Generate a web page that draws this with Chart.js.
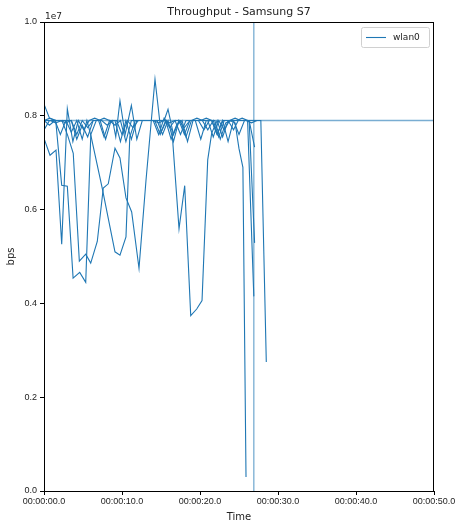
<!DOCTYPE html>
<html><head><meta charset="utf-8">
<script src="https://cdn.jsdelivr.net/npm/chart.js@4"></script>
<style>html,body{margin:0;padding:0;background:#fff}</style>
</head><body>
<canvas id="c" width="458" height="524" style="display:block;width:458px;height:524px"></canvas>
<script>
// ---- data (time in seconds, throughput in bps) ----
const TITLE = 'Throughput - Samsung S7';
const SERIES_LABEL = 'wlan0';
const X_TITLE = 'Time';
const Y_TITLE = 'bps';
const Y_OFFSET_LABEL = '1e7';
const X_TICKS = [0, 10, 20, 30, 40, 50];
const X_TICK_LABELS = ['00:00:00.0', '00:00:10.0', '00:00:20.0', '00:00:30.0', '00:00:40.0', '00:00:50.0'];
const Y_TICKS = [0, 2e6, 4e6, 6e6, 8e6, 1e7];
const Y_TICK_LABELS = ['0.0', '0.2', '0.4', '0.6', '0.8', '1.0'];

const run1 = [[0,8.25e6],[0.7,7.95e6],[1.4,7.9e6],[2.1,7.9e6],[2.8,7.85e6],[3.5,7.9e6],[4.2,7.6e6],[4.9,7.9e6],[5.6,7.75e6],[6.3,7.9e6],[7.0,7.9e6],[7.7,7.55e6],[8.4,7.9e6],[9.1,7.8e6],[9.8,7.9e6],[10.5,7.45e6],[11.2,7.9e6],[11.9,7.9e6],[12.6,7.9e6],[13.3,7.9e6],[14.0,7.9e6],[14.7,7.9e6],[15.4,7.9e6],[16.1,7.85e6],[16.8,7.9e6],[17.5,7.6e6],[18.2,7.9e6],[18.9,7.9e6],[19.6,7.95e6],[20.3,7.9e6],[21.0,7.7e6],[21.7,7.9e6],[22.4,7.55e6],[23.1,7.9e6],[23.8,7.9e6],[24.5,7.85e6],[25.0,7.3e6],[25.5,6.9e6],[25.9,0.3e6]];
const run2 = [[0,7.52e6],[0.77,7.16e6],[1.54,7.27e6],[2.27,5.26e6],[2.99,8.15e6],[3.7,7.45e6],[4.4,7.9e6],[5.1,7.7e6],[5.8,7.9e6],[6.5,7.95e6],[7.2,7.9e6],[7.9,7.5e6],[8.6,7.9e6],[9.3,7.9e6],[10.0,7.6e6],[10.7,7.9e6],[11.4,7.75e6],[12.1,7.9e6],[12.8,7.9e6],[13.5,7.9e6],[14.2,7.9e6],[14.9,7.6e6],[15.6,7.9e6],[16.3,7.5e6],[17.0,7.8e6],[17.7,7.9e6],[18.4,7.45e6],[19.1,7.9e6],[19.8,7.9e6],[20.5,7.7e6],[21.2,7.9e6],[21.9,7.9e6],[22.6,7.5e6],[23.3,7.85e6],[24.0,7.9e6],[24.7,7.9e6],[25.4,7.95e6],[26.1,7.9e6],[26.9,4.15e6]];
const run3 = [[0,7.9e6],[0.75,7.95e6],[1.5,7.9e6],[2.27,6.52e6],[2.99,6.5e6],[3.73,4.54e6],[4.58,4.66e6],[5.35,4.45e6],[6.0,7.6e6],[6.7,7.9e6],[7.4,7.9e6],[8.1,7.8e6],[8.8,7.9e6],[9.2,7.55e6],[9.74,8.32e6],[10.4,7.6e6],[11.2,8.22e6],[11.9,7.5e6],[12.6,7.9e6],[13.3,7.9e6],[14.0,7.9e6],[14.7,7.85e6],[15.4,7.9e6],[15.9,8.14e6],[16.6,7.6e6],[17.3,7.9e6],[18.0,7.75e6],[18.7,7.9e6],[19.4,7.9e6],[20.1,7.5e6],[20.8,7.9e6],[21.5,7.9e6],[22.2,7.6e6],[22.9,7.9e6],[23.6,7.9e6],[24.3,7.7e6],[24.9,7.9e6],[25.6,7.9e6],[26.3,7.9e6],[27.0,5.29e6]];
const run4 = [[0,7.9e6],[0.8,7.9e6],[1.5,7.85e6],[2.3,7.9e6],[3.0,7.6e6],[3.75,7.2e6],[4.53,4.9e6],[5.35,5.05e6],[5.99,4.86e6],[6.83,5.32e6],[7.6,6.46e6],[8.24,6.55e6],[9.1,7.31e6],[9.74,7.1e6],[10.51,6.25e6],[11.24,5.95e6],[12.18,4.75e6],[13.08,6.63e6],[14.23,8.78e6],[15.0,7.65e6],[15.7,7.9e6],[16.4,7.7e6],[17.31,5.59e6],[18.04,6.51e6],[18.81,3.74e6],[19.58,3.88e6],[20.26,4.06e6],[20.99,7.06e6],[21.5,7.63e6],[22.2,7.9e6],[22.9,7.55e6],[23.6,7.9e6],[24.3,7.9e6],[25.0,7.6e6],[25.7,7.9e6],[26.3,7.9e6],[27.0,7.33e6]];
const run5 = [[0,7.7e6],[0.7,7.9e6],[1.4,7.9e6],[2.1,7.9e6],[2.8,7.9e6],[3.5,7.65e6],[4.2,7.9e6],[4.9,7.5e6],[5.5,7.9e6],[6.0,7.59e6],[7.45,6.47e6],[9.1,5.1e6],[9.74,5.03e6],[10.51,5.42e6],[11.0,7.55e6],[11.7,7.9e6],[12.4,7.9e6],[13.1,7.9e6],[13.8,7.9e6],[14.5,7.9e6],[15.2,7.6e6],[15.9,7.9e6],[16.6,7.45e6],[17.3,7.9e6],[18.0,7.6e6],[18.7,7.9e6],[19.4,7.9e6],[20.1,7.9e6],[20.8,7.95e6],[21.5,7.9e6],[22.2,7.6e6],[22.9,7.9e6],[23.6,7.45e6],[24.3,7.9e6],[25.0,7.9e6],[25.7,7.9e6],[26.4,7.9e6],[27.1,7.9e6],[27.8,7.9e6],[28.5,2.75e6]];
const run6 = [[0,7.9e6],[0.7,7.8e6],[1.4,7.9e6],[2.1,7.6e6],[2.8,7.9e6],[3.5,7.9e6],[4.2,7.5e6],[4.9,7.8e6],[5.6,7.55e6],[6.3,7.9e6],[7.0,7.9e6],[7.7,7.95e6],[8.4,7.9e6],[9.1,7.9e6],[9.8,7.45e6],[10.5,7.9e6],[11.2,7.5e6],[11.9,7.9e6],[12.6,7.9e6],[13.3,7.9e6],[14.0,7.9e6],[14.7,7.6e6],[15.4,7.95e6],[16.1,7.75e6],[16.8,7.9e6],[17.5,7.9e6],[18.2,7.55e6],[18.9,7.9e6],[19.6,7.9e6],[20.3,7.9e6],[21.0,7.9e6],[21.7,7.55e6],[22.4,7.9e6],[23.1,7.7e6],[23.8,7.9e6],[24.5,7.95e6],[25.2,7.9e6],[25.9,7.9e6],[26.6,7.85e6],[27.3,7.9e6]];
const RUNS = [run1, run2, run3, run4, run5, run6];
const MARKER_TIME = 26.9;   // vertical reference line
const MARKER_RATE = 7.9e6;  // horizontal reference line
const X_MIN = 0, X_MAX = 50, Y_MIN = 0, Y_MAX = 1e7;

// ---- styling ----
const BLUE = '#1f77b4';
const BLUE_LIGHT = 'rgba(31,119,180,0.6)';
const TICK_FONT = {family: '"Liberation Sans", Arial, sans-serif', size: 9};

const datasets = RUNS.map((r, i) => ({
  label: i === 0 ? SERIES_LABEL : '',
  data: r.map(p => ({x: p[0], y: p[1]})),
  borderColor: BLUE, borderWidth: 1.1, pointRadius: 0, fill: false, tension: 0
}));
datasets.push({label: '', data: [{x: MARKER_TIME, y: Y_MIN}, {x: MARKER_TIME, y: Y_MAX}],
  borderColor: BLUE_LIGHT, borderWidth: 1.3, pointRadius: 0, fill: false});
datasets.push({label: '', data: [{x: X_MIN, y: MARKER_RATE}, {x: X_MAX, y: MARKER_RATE}],
  borderColor: BLUE_LIGHT, borderWidth: 1.3, pointRadius: 0, fill: false});

const decor = {
  id: 'decor',
  afterDraw(chart) {
    const ctx = chart.ctx, a = chart.chartArea;
    ctx.save();
    ctx.strokeStyle = '#000'; ctx.lineWidth = 1;
    ctx.strokeRect(Math.round(a.left) + 0.5, Math.round(a.top) + 0.5, Math.round(a.right - a.left) - 1, Math.round(a.bottom - a.top));
    const cx = (a.left + a.right) / 2;
    ctx.fillStyle = '#222';
    ctx.textAlign = 'center'; ctx.textBaseline = 'alphabetic';
    ctx.font = '11px "DejaVu Sans", sans-serif';
    ctx.fillText(TITLE, cx, 15);
    ctx.font = '10px "DejaVu Sans", sans-serif';
    ctx.fillText(X_TITLE, cx, 520);
    ctx.save(); ctx.translate(14, (a.top + a.bottom) / 2); ctx.rotate(-Math.PI / 2);
    ctx.fillText(Y_TITLE, 0, 0); ctx.restore();
    ctx.textAlign = 'left';
    ctx.font = '9px "DejaVu Sans", sans-serif';
    ctx.fillText(Y_OFFSET_LABEL, a.left + 1, 19);
    // legend
    const lx = 361, ly = 27, lw = 68, lh = 20;
    ctx.fillStyle = 'rgba(255,255,255,0.8)';
    ctx.strokeStyle = '#d0d0d0'; ctx.lineWidth = 1;
    ctx.beginPath();
    if (ctx.roundRect) ctx.roundRect(lx + 0.5, ly + 0.5, lw, lh, 2); else ctx.rect(lx + 0.5, ly + 0.5, lw, lh);
    ctx.fill(); ctx.stroke();
    ctx.strokeStyle = BLUE; ctx.lineWidth = 1.1;
    ctx.beginPath(); ctx.moveTo(366, 37.5); ctx.lineTo(386, 37.5); ctx.stroke();
    ctx.fillStyle = '#222'; ctx.textBaseline = 'middle';
    ctx.font = '9px "DejaVu Sans", sans-serif';
    ctx.fillText(SERIES_LABEL, 393, 38);
    ctx.restore();
  }
};

new Chart(document.getElementById('c'), {
  type: 'line',
  data: {datasets},
  options: {
    responsive: false, animation: false, devicePixelRatio: 1,
    layout: {padding: {top: 22, right: 24, left: 0, bottom: 0}},
    plugins: {legend: {display: false}, title: {display: false}, tooltip: {enabled: false}},
    scales: {
      x: {
        type: 'linear', min: X_MIN, max: X_MAX,
        afterBuildTicks: s => { s.ticks = X_TICKS.map(v => ({value: v})); },
        afterFit: s => { s.height = 33; },
        grid: {drawOnChartArea: false, drawTicks: true, tickLength: 4, tickColor: '#000'},
        border: {color: '#000', width: 1},
        ticks: {color: '#222', font: TICK_FONT, padding: 1, maxRotation: 0, autoSkip: false,
          callback: v => X_TICK_LABELS[X_TICKS.indexOf(v)]}
      },
      y: {
        type: 'linear', min: Y_MIN, max: Y_MAX,
        afterBuildTicks: s => { s.ticks = Y_TICKS.map(v => ({value: v})); },
        afterFit: s => { s.width = 44; },
        grid: {drawOnChartArea: false, drawTicks: true, tickLength: 4, tickColor: '#000'},
        border: {color: '#000', width: 1},
        ticks: {color: '#222', font: TICK_FONT, padding: 3, autoSkip: false,
          callback: v => Y_TICK_LABELS[Y_TICKS.indexOf(v)]}
      }
    }
  },
  plugins: [decor]
});
</script>
</body></html>
